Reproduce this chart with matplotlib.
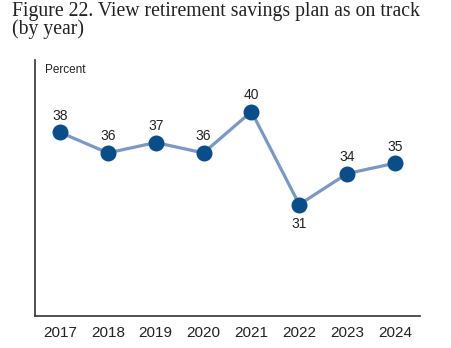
import matplotlib
matplotlib.use('Agg')
import matplotlib.pyplot as plt

years = ['2017', '2018', '2019', '2020', '2021', '2022', '2023', '2024']
values = [38, 36, 37, 36, 40, 31, 34, 35]
label_below = ['2022']

plt.rcParams['font.family'] = ['Liberation Sans', 'DejaVu Sans']

fig = plt.figure(figsize=(4.51, 3.48), dpi=100)
ax = fig.add_axes([35 / 451, 1 - 316 / 348, 385 / 451, 256 / 348])

x = list(range(len(years)))
ax.plot(x, values, color='#7b98c2', linewidth=2.3, zorder=2)
ax.plot(x, values, 'o', color='#0a4d89', markersize=10.5, zorder=3)

for xi, yr, v in zip(x, years, values):
    if yr in label_below:
        ax.annotate(str(v), (xi, v), xytext=(0, -9), textcoords='offset points',
                    ha='center', va='top', fontsize=10, color='#222222')
    else:
        ax.annotate(str(v), (xi, v), xytext=(0, 7), textcoords='offset points',
                    ha='center', va='bottom', fontsize=10, color='#222222')

ax.set_xlim(-0.52, len(years) - 1 + 0.52)
ax.set_ylim(20.2, 45)
ax.set_xticks(x)
ax.set_xticklabels(years, fontsize=11, color='#222222')
ax.set_yticks([])
ax.tick_params(axis='x', length=0, pad=7)

for s in ['top', 'right']:
    ax.spines[s].set_visible(False)
for s in ['left', 'bottom']:
    ax.spines[s].set_color('#333333')
    ax.spines[s].set_linewidth(1.2)

ax.text(0.025, 0.985, 'Percent', transform=ax.transAxes, ha='left', va='top',
        fontsize=8.5, color='#222222')

fig.text(12 / 451, 1 - 2 / 348, 'Figure 22. View retirement savings plan as on track\n(by year)',
         ha='left', va='top', fontsize=14.2, family=['Liberation Serif', 'DejaVu Serif'],
         color='#222222', linespacing=0.9)

fig.savefig('out.png', dpi=100)
